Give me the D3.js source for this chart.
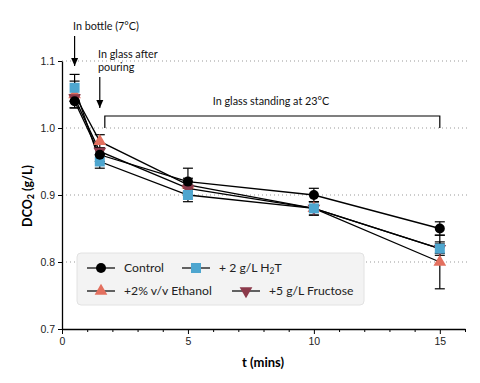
<!DOCTYPE html>
<html>
<head>
<meta charset="utf-8">
<script src="https://cdn.jsdelivr.net/npm/d3@7"></script>
<style>
  body { margin: 0; background: #fff; }
  svg { display: block; font-family: Lato, "Open Sans", sans-serif; }
  .tick text { font-size: 10.5px; fill: #222; }
</style>
</head>
<body>
<div id="chart"><svg></svg></div>
<script>
// time points (mins)
var times = [0.5, 1.5, 5, 10, 15];

// DCO2 (g/L) per treatment, with +/- error
var controlVals  = [1.04, 0.96, 0.92, 0.90, 0.85];
var controlErr   = [0.01, 0.01, 0.02, 0.01, 0.01];
var h2tVals      = [1.06, 0.95, 0.90, 0.88, 0.82];
var h2tErr       = [0.02, 0.01, 0.01, 0.01, 0.01];
var ethanolVals  = [1.05, 0.98, 0.915, 0.88, 0.80];
var ethanolErr   = [0.02, 0.01, 0.01, 0.01, 0.04];
var fructoseVals = [1.045, 0.965, 0.91, 0.88, 0.82];
var fructoseErr  = [0.005, 0.005, 0.005, 0.005, 0.007];

var yTicks = [0.7, 0.8, 0.9, 1.0, 1.1];
var xTicks = [0, 5, 10, 15];

var series = [
  { name: "+2% v/v Ethanol", vals: ethanolVals, err: ethanolErr, shape: "tri", color: "#e3705f" },
  { name: "+5 g/L Fructose", vals: fructoseVals, err: fructoseErr, shape: "tridown", color: "#8c3a4b" },
  { name: "+ 2 g/L H\u2082T", vals: h2tVals, err: h2tErr, shape: "square", color: "#4ea6cf" },
  { name: "Control", vals: controlVals, err: controlErr, shape: "circle", color: "#000" }
];

var width = 480, height = 383;
var svg = d3.select("#chart svg").attr("width", width).attr("height", height);

var x = d3.scaleLinear().domain([0, 16]).range([62, 465]);
var y = d3.scaleLinear().domain([0.7, 1.1]).range([329, 61]);

// dotted grid
svg.append("g")
  .selectAll("line")
  .data(yTicks.slice(1))
  .enter().append("line")
    .attr("x1", x(0)).attr("x2", 468)
    .attr("y1", function(d) { return y(d); })
    .attr("y2", function(d) { return y(d); })
    .style("stroke", "#999")
    .style("stroke-width", 1)
    .style("stroke-dasharray", "1,3");

// axes
var yAxis = svg.append("g")
  .attr("transform", "translate(" + x(0) + ",0)")
  .call(d3.axisLeft(y).tickValues(yTicks).tickFormat(d3.format(".1f")).tickSize(4).tickSizeOuter(0));
var xAxis = svg.append("g")
  .attr("transform", "translate(0," + y(0.7) + ")")
  .call(d3.axisBottom(x).tickValues(xTicks).tickFormat(d3.format("d")).tickSize(5).tickSizeOuter(0));
svg.append("g")
  .attr("transform", "translate(0," + y(0.7) + ")")
  .call(d3.axisBottom(x).tickValues(d3.range(1, 17).filter(function(d) { return d % 5 != 0; })).tickFormat("").tickSize(3).tickSizeOuter(0))
  .select(".domain").remove();
svg.selectAll(".domain").style("stroke", "#000").style("stroke-width", 1.3);
svg.selectAll(".tick line").style("stroke", "#000");
yAxis.selectAll("text").attr("x", -7);
xAxis.selectAll("text").attr("y", 9);

// axis titles
svg.append("text")
  .attr("transform", "translate(32," + 196 + ") rotate(-90)")
  .attr("text-anchor", "middle")
  .style("font-size", "12.5px").style("font-weight", "bold")
  .html("DCO<tspan font-size='9px' dy='2'>2</tspan><tspan dy='-2'> (g/L)</tspan>");
svg.append("text")
  .attr("x", 263).attr("y", 367)
  .attr("text-anchor", "middle")
  .style("font-size", "13px").style("font-weight", "bold")
  .text("t (mins)");

// marker drawing
function drawMarker(sel, shape, color) {
  if (shape == "circle") {
    sel.append("circle").attr("r", 5).style("fill", color);
  } else if (shape == "square") {
    sel.append("rect").attr("x", -5).attr("y", -5).attr("width", 10).attr("height", 10).style("fill", color);
  } else {
    var s = d3.symbol().type(d3.symbolTriangle).size(70);
    sel.append("path").attr("d", s)
      .attr("transform", shape == "tridown" ? "rotate(180)" : null)
      .style("fill", color);
  }
}

var line = d3.line()
  .x(function(d, i) { return x(times[i]); })
  .y(function(d) { return y(d); });

// lines
series.forEach(function(s) {
  svg.append("path")
    .datum(s.vals)
    .attr("d", line)
    .style("fill", "none")
    .style("stroke", "#000")
    .style("stroke-width", 1.3);
});

// error bars
series.forEach(function(s) {
  var g = svg.append("g").attr("class", "err");
  s.vals.forEach(function(v, i) {
    var cx = x(times[i]), lo = y(v - s.err[i]), hi = y(v + s.err[i]);
    g.append("line").attr("x1", cx).attr("x2", cx).attr("y1", lo).attr("y2", hi);
    g.append("line").attr("x1", cx - 5).attr("x2", cx + 5).attr("y1", lo).attr("y2", lo);
    g.append("line").attr("x1", cx - 5).attr("x2", cx + 5).attr("y1", hi).attr("y2", hi);
  });
  g.selectAll("line").style("stroke", "#000").style("stroke-width", 1.2);
});

// markers
series.forEach(function(s) {
  svg.append("g").selectAll("g")
    .data(s.vals)
    .enter().append("g")
      .attr("transform", function(d, i) { return "translate(" + x(times[i]) + "," + y(d) + ")"; })
      .each(function() { drawMarker(d3.select(this), s.shape, s.color); });
});

// annotations
svg.append("defs").append("marker")
  .attr("id", "arrow")
  .attr("viewBox", "0 0 8 10")
  .attr("refX", 8).attr("refY", 5)
  .attr("markerWidth", 8).attr("markerHeight", 10)
  .attr("markerUnits", "userSpaceOnUse")
  .attr("orient", "auto")
  .append("path").attr("d", "M0,1.5 L8,5 L0,8.5 Z").style("fill", "#000");

var note = svg.append("g").style("font-size", "10.8px").style("fill", "#111");
note.append("text").attr("x", 73).attr("y", 30).text("In bottle (7\u00b0C)");
note.append("text").attr("x", 98).attr("y", 58).text("In glass after");
note.append("text").attr("x", 98).attr("y", 71).text("pouring");
note.append("text").attr("x", 271).attr("y", 105).attr("text-anchor", "middle").text("In glass standing at 23\u00b0C");

svg.append("line").attr("x1", x(0.5)).attr("x2", x(0.5)).attr("y1", 36).attr("y2", 66)
  .style("stroke", "#000").style("stroke-width", 1.2).attr("marker-end", "url(#arrow)");
svg.append("line").attr("x1", x(1.5)).attr("x2", x(1.5)).attr("y1", 77).attr("y2", 108)
  .style("stroke", "#000").style("stroke-width", 1.2).attr("marker-end", "url(#arrow)");
svg.append("path")
  .attr("d", "M" + x(1.7) + "," + y(1.0) + "V116H" + x(15) + "V" + y(1.0))
  .style("fill", "none").style("stroke", "#000").style("stroke-width", 1.2);

// legend
var legend = svg.append("g");
legend.append("rect")
  .attr("x", 77).attr("y", 253).attr("width", 287).attr("height", 52)
  .attr("rx", 4)
  .style("fill", "#f3f3f3").style("stroke", "#e2e2e2");
var legendOrder = [
  { s: series[3], lx: 87, ly: 268 },
  { s: series[2], lx: 182, ly: 268 },
  { s: series[0], lx: 87, ly: 291 },
  { s: series[1], lx: 232, ly: 291 }
];
legendOrder.forEach(function(d) {
  var g = legend.append("g").attr("transform", "translate(" + d.lx + "," + d.ly + ")");
  g.append("line").attr("x1", 0).attr("x2", 28).style("stroke", "#000").style("stroke-width", 1.2);
  var m = g.append("g").attr("transform", "translate(14,0)");
  drawMarker(m, d.s.shape, d.s.color);
  g.append("text").attr("x", 37).attr("y", 4).style("font-size", "12.2px").style("fill", "#222")
    .html(d.s.shape == "square" ? "+ 2 g/L H<tspan font-size='8.5px' dy='2'>2</tspan><tspan dy='-2'>T</tspan>" : d.s.name);
});
</script>
</body>
</html>
